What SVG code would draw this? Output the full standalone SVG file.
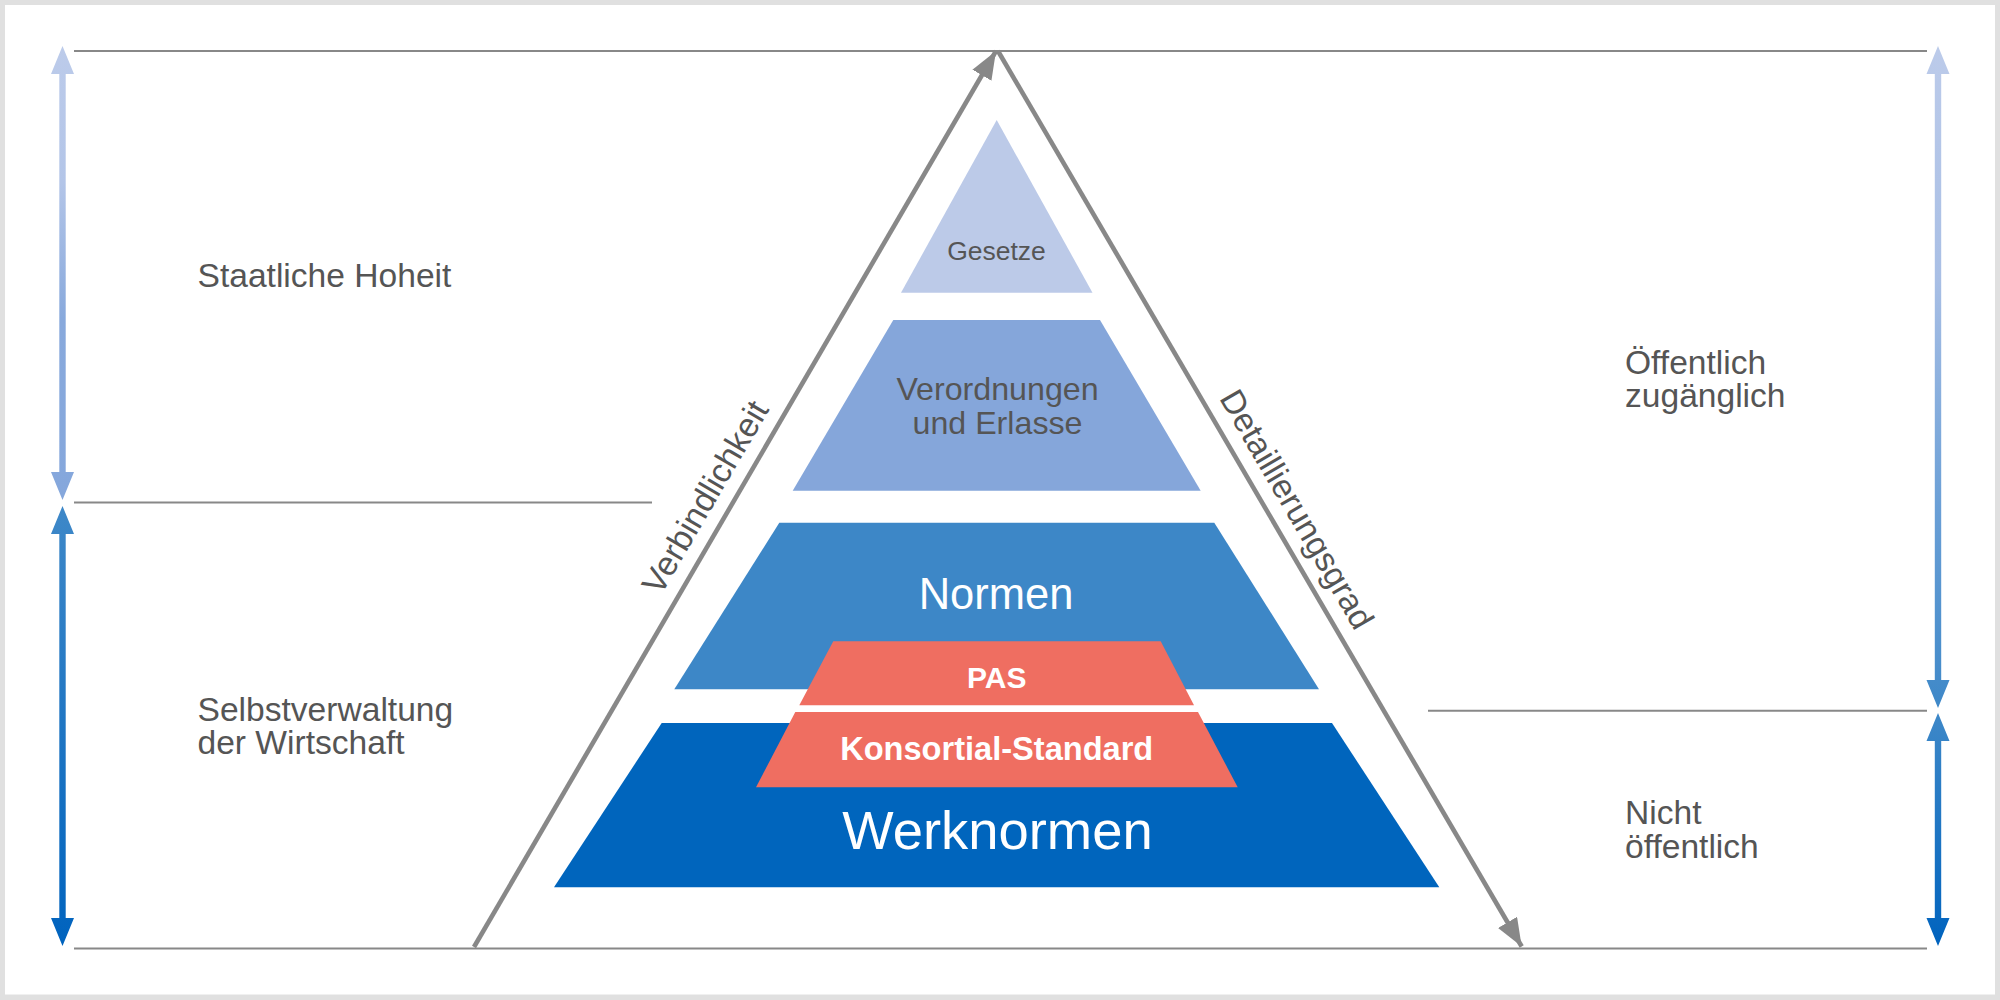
<svg xmlns="http://www.w3.org/2000/svg" width="2000" height="1000" viewBox="0 0 2000 1000">
  <style>
    .lbl { font-family: "Liberation Sans", Arial, Helvetica, sans-serif; font-size: 33.6px; fill: #555555; }
    .hline { stroke: #888888; stroke-width: 2; fill: none; }
    .side { stroke: #888888; stroke-width: 4.6; fill: none; }
    .white { font-family: "Liberation Sans", Arial, Helvetica, sans-serif; fill: #ffffff; text-anchor: middle; }
    .dark { font-family: "Liberation Sans", Arial, Helvetica, sans-serif; fill: #555555; text-anchor: middle; }
  </style>
  <defs>
    <linearGradient id="gLU" gradientUnits="userSpaceOnUse" x1="0" y1="46" x2="0" y2="500">
      <stop offset="0" stop-color="#bccbea"/>
      <stop offset="0.3" stop-color="#b3c5e8"/>
      <stop offset="0.6" stop-color="#88a9dc"/>
      <stop offset="1" stop-color="#85a7dc"/>
    </linearGradient>
    <linearGradient id="gLow" gradientUnits="userSpaceOnUse" x1="0" y1="506" x2="0" y2="946">
      <stop offset="0" stop-color="#3e88c8"/>
      <stop offset="1" stop-color="#0063be"/>
    </linearGradient>
    <linearGradient id="gRU" gradientUnits="userSpaceOnUse" x1="0" y1="46" x2="0" y2="708">
      <stop offset="0" stop-color="#bccbea"/>
      <stop offset="0.35" stop-color="#a9bfe5"/>
      <stop offset="0.7" stop-color="#6a9fd6"/>
      <stop offset="1" stop-color="#3e88c8"/>
    </linearGradient>
    <linearGradient id="gRLow" gradientUnits="userSpaceOnUse" x1="0" y1="713" x2="0" y2="946">
      <stop offset="0" stop-color="#3e88c8"/>
      <stop offset="1" stop-color="#0063be"/>
    </linearGradient>
    <marker id="ah" viewBox="0 0 28 22" refX="28" refY="11" markerWidth="28" markerHeight="22" markerUnits="userSpaceOnUse" orient="auto">
      <path d="M0,0 L28,11 L0,22 Z" fill="#888888"/>
    </marker>
  </defs>

  <rect x="0" y="0" width="2000" height="1000" fill="#e0e0e0"/>
  <rect x="5" y="5" width="1990" height="989.5" fill="#ffffff"/>

  <g id="connectors">
    <line class="hline" x1="74" y1="51" x2="1927" y2="51"/>
    <line class="hline" x1="74" y1="502.6" x2="652" y2="502.6"/>
    <line class="hline" x1="1428" y1="710.7" x2="1927" y2="710.7"/>
    <line class="hline" x1="74" y1="948.5" x2="1927" y2="948.5"/>
    <line class="side" x1="474" y1="947" x2="996" y2="51" marker-end="url(#ah)"/>
    <line class="side" x1="998" y1="51" x2="1521.7" y2="946.5" marker-end="url(#ah)"/>
    <path d="M62.5,46 L74,74 L65.7,74 L65.7,472 L74,472 L62.5,500 L51,472 L59.3,472 L59.3,74 L51,74 Z" fill="url(#gLU)"/>
    <path d="M62.5,506 L74,534 L65.7,534 L65.7,918 L74,918 L62.5,946 L51,918 L59.3,918 L59.3,534 L51,534 Z" fill="url(#gLow)"/>
    <path d="M1938,46 L1949.5,74 L1941.2,74 L1941.2,680 L1949.5,680 L1938,708 L1926.5,680 L1934.8,680 L1934.8,74 L1926.5,74 Z" fill="url(#gRU)"/>
    <path d="M1938,713 L1949.5,741 L1941.2,741 L1941.2,918 L1949.5,918 L1938,946 L1926.5,918 L1934.8,918 L1934.8,741 L1926.5,741 Z" fill="url(#gRLow)"/>
  </g>

  <g id="axis-verbindlichkeit">
    <text class="lbl" text-anchor="middle" font-size="33" transform="translate(715,503) rotate(-59.7)">Verbindlichkeit</text>
  </g>
  <g id="axis-detaillierungsgrad">
    <text class="lbl" text-anchor="middle" font-size="33" transform="translate(1287,515) rotate(59.7)">Detaillierungsgrad</text>
  </g>

  <g id="label-staatliche-hoheit">
    <text class="lbl" x="197.5" y="287">Staatliche Hoheit</text>
  </g>
  <g id="label-selbstverwaltung">
    <text class="lbl" x="197.5" y="721">Selbstverwaltung</text>
    <text class="lbl" x="197.5" y="754">der Wirtschaft</text>
  </g>
  <g id="label-oeffentlich">
    <text class="lbl" x="1625" y="373.5">Öffentlich</text>
    <text class="lbl" x="1625" y="407">zugänglich</text>
  </g>
  <g id="label-nicht-oeffentlich">
    <text class="lbl" x="1625" y="824.3">Nicht</text>
    <text class="lbl" x="1625" y="858.3">öffentlich</text>
  </g>

  <g id="gesetze">
    <polygon points="996.7,120 1092.5,292.7 901,292.7" fill="#bccae8"/>
    <text class="dark" x="996.5" y="260" font-size="26.5">Gesetze</text>
  </g>
  <g id="verordnungen">
    <polygon points="893.3,320 1100,320 1200.7,490.7 792.7,490.7" fill="#85a6da"/>
    <text class="dark" x="997.5" y="400" font-size="32.2">Verordnungen</text>
    <text class="dark" x="997.5" y="433.5" font-size="32.2">und Erlasse</text>
  </g>
  <g id="normen">
    <polygon points="779.3,522.7 1214.3,522.7 1319,689.3 674.3,689.3" fill="#3d87c7"/>
    <text class="white" x="996" y="609.3" font-size="43.5">Normen</text>
  </g>
  <g id="werknormen">
    <polygon points="661.7,723 1332,723 1439.3,887.3 554,887.3" fill="#0065bd"/>
    <text class="white" x="997.5" y="848.7" font-size="54.4">Werknormen</text>
  </g>
  <g id="pas">
    <polygon points="833.3,641.3 1160.7,641.3 1194,705.3 799.3,705.3" fill="#ef6e61"/>
    <text class="white" x="996.7" y="687.5" font-size="30" font-weight="bold">PAS</text>
  </g>
  <g id="konsortial-standard">
    <polygon points="795.3,712 1198,712 1237.7,787.3 756,787.3" fill="#ef6e61"/>
    <text class="white" x="996.7" y="760" font-size="32.6" font-weight="bold">Konsortial-Standard</text>
  </g>
</svg>
